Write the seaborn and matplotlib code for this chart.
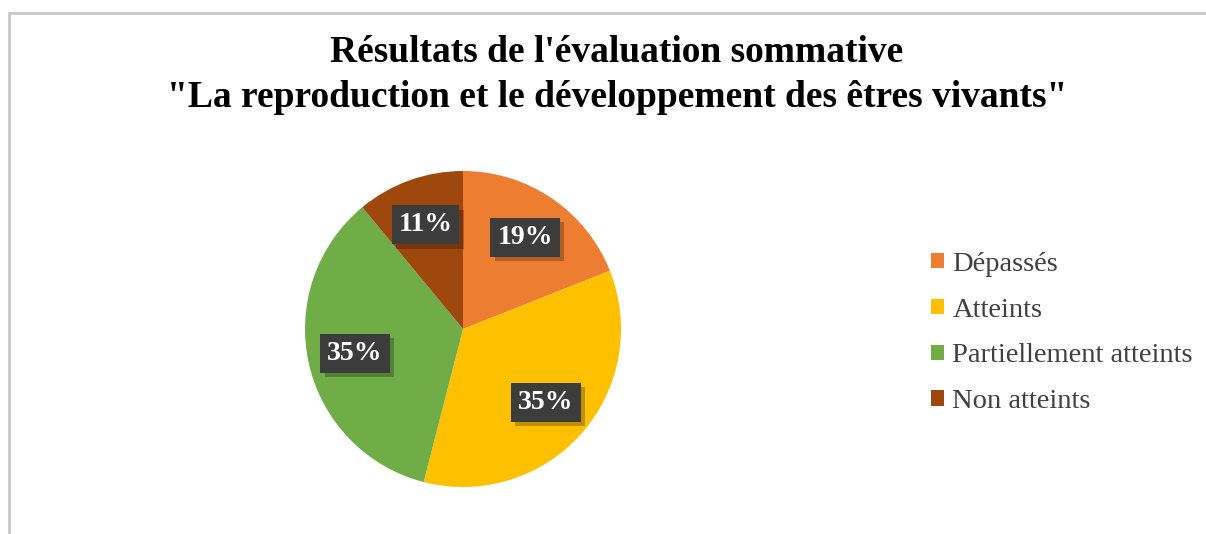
import matplotlib
matplotlib.use('Agg')
import matplotlib.pyplot as plt
import matplotlib.patheffects as pe
from matplotlib.lines import Line2D
import seaborn as sns

# donnees
categories = ['Dépassés', 'Atteints', 'Partiellement atteints', 'Non atteints']
pourcentages = [19, 35, 35, 11]
couleurs = ['#ED7D31', '#FFC000', '#70AD47', '#9E480E']
titre = 'Résultats de l\'évaluation sommative\n"La reproduction et le développement des êtres vivants"'

sns.set_theme(style='white')
plt.rcParams['font.family'] = ['Liberation Serif', 'DejaVu Serif']

W, H = 1206, 534
fig = plt.figure(figsize=(W / 100, H / 100), dpi=100)
fig.patch.set_facecolor('white')

# axe du camembert : centre (463, 329), rayon 158 px
cx, cy, r = 463, 329, 158
ax = fig.add_axes([(cx - r) / W, (H - cy - r) / H, 2 * r / W, 2 * r / H])

palette = sns.color_palette(couleurs)
wedges, texts, autotexts = ax.pie(
    pourcentages, colors=palette, startangle=90, counterclock=False,
    autopct='%d%%', pctdistance=0.70, radius=1,
    wedgeprops=dict(linewidth=0),
    textprops=dict(color='white', fontsize=20, fontweight='bold'))
ax.set_xlim(-1, 1)
ax.set_ylim(-1, 1)
ax.set_aspect('equal')

for t in autotexts:
    t.set_bbox(dict(boxstyle='square,pad=0.25', facecolor='#3c3c3c', edgecolor='none'))
    t.get_bbox_patch().set_path_effects([
        pe.SimplePatchShadow(offset=(3, -3), shadow_rgbFace='black', alpha=0.25),
        pe.Normal()])

# titre
fig.text(617 / W, 1 - 75 / H, titre, ha='center', va='center', fontsize=27,
         fontweight='bold', color='black', linespacing=1.35)

# legende
ax.legend(wedges, categories, loc='center left',
          bbox_to_anchor=(931 / W, 1 - 333 / H), bbox_transform=fig.transFigure,
          frameon=False, fontsize=20.5, handlelength=0.45, handleheight=0.45,
          handletextpad=0.3, labelspacing=0.73, borderpad=0, borderaxespad=0,
          labelcolor='#404040')

# bordure grise (haut et gauche)
fig.add_artist(Line2D([9 / W, 1], [1 - 13 / H, 1 - 13 / H], transform=fig.transFigure,
                      color='#c8c8c8', linewidth=2))
fig.add_artist(Line2D([9 / W, 9 / W], [0, 1 - 13 / H], transform=fig.transFigure,
                      color='#c8c8c8', linewidth=2))

fig.savefig('out.png', dpi=100)
